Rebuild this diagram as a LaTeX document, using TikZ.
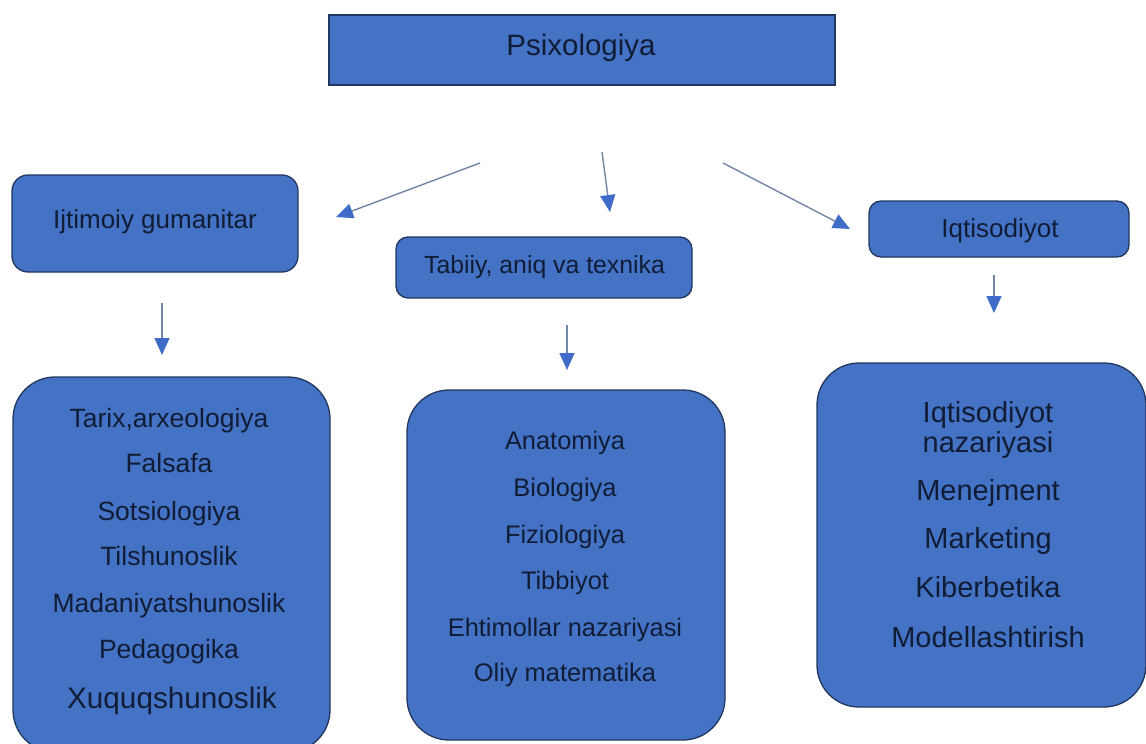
\documentclass[tikz,border=0pt]{standalone}
\usepackage{fontspec}
\setmainfont{Liberation Sans}
\usetikzlibrary{arrows.meta}
\definecolor{boxblue}{HTML}{4472C4}
\definecolor{boxedge}{HTML}{22375F}
\definecolor{txtc}{HTML}{111C36}
\definecolor{linec}{HTML}{7286A6}
\definecolor{tipc}{HTML}{3F6CC8}
\begin{document}
\begin{tikzpicture}[x=1pt,y=-1pt,
 box/.style={draw=boxedge, line width=1.3pt, fill=boxblue, inner sep=0pt},
 lbl/.style={text=txtc, anchor=base, inner sep=0pt},
 arr/.style={draw=linec, line width=1.4pt, -{Triangle[length=17pt,width=15pt,color=tipc]}},
]
\useasboundingbox (0,0) rectangle (1146,744);
\clip (0,0) rectangle (1146,744);
\fill[white] (0,0) rectangle (1146,744);

% boxes
\node[box, minimum width=506pt, minimum height=70pt] (psi) at (582,50) {};
\node[box, rounded corners=16pt, minimum width=286pt, minimum height=97pt] (ijt) at (155,223.5) {};
\node[box, rounded corners=12pt, minimum width=296pt, minimum height=61pt] (tab) at (544,267.5) {};
\node[box, rounded corners=12pt, minimum width=260pt, minimum height=56pt] (iqt) at (999,229) {};
\node[box, rounded corners=42pt, minimum width=317pt, minimum height=375pt] (ijtl) at (171.5,564.5) {};
\node[box, rounded corners=42pt, minimum width=318pt, minimum height=350pt] (tabl) at (566,565) {};
\node[box, rounded corners=42pt, minimum width=329pt, minimum height=344pt] (iqtl) at (981.5,535) {};

% texts
\node[lbl, font=\fontsize{29.5}{34}\selectfont] (tpsi) at (581,55) {Psixologiya};
\node[lbl, font=\fontsize{26}{30}\selectfont] (tijt) at (155,228) {Ijtimoiy gumanitar};
\node[lbl, font=\fontsize{24.8}{29}\selectfont] (ttab) at (544.5,273) {Tabiiy, aniq va texnika};
\node[lbl, font=\fontsize{26}{30}\selectfont] (tiqt) at (1000,237) {Iqtisodiyot};

\begin{scope}[every node/.style={lbl, font=\fontsize{26.5}{30}\selectfont}]
\node (l1) at (169,427) {Tarix,arxeologiya};
\node (l2) at (169,472) {Falsafa};
\node (l3) at (169,520) {Sotsiologiya};
\node (l4) at (169,565) {Tilshunoslik};
\node (l5) at (169,612) {Madaniyatshunoslik};
\node (l6) at (169,658) {Pedagogika};
\node[font=\fontsize{29.7}{34}\selectfont] (l7) at (172,708) {Xuquqshunoslik};
\end{scope}

\begin{scope}[every node/.style={lbl, font=\fontsize{25.4}{30}\selectfont}]
\node (m1) at (565,449) {Anatomiya};
\node (m2) at (565,496) {Biologiya};
\node (m3) at (565,543) {Fiziologiya};
\node (m4) at (565,589) {Tibbiyot};
\node (m5) at (565,636) {Ehtimollar nazariyasi};
\node (m6) at (565,681) {Oliy matematika};
\end{scope}

\begin{scope}[every node/.style={lbl, font=\fontsize{29}{34}\selectfont}]
\node (r1) at (988,422) {Iqtisodiyot};
\node (r2) at (988,452) {nazariyasi};
\node (r3) at (988,500) {Menejment};
\node (r4) at (988,548) {Marketing};
\node (r5) at (988,597) {Kiberbetika};
\node (r6) at (988,647) {Modellashtirish};
\end{scope}

% arrow ends
\coordinate (a1s) at (480,163); \coordinate (a1e) at (336,217);
\coordinate (a2s) at (602,152); \coordinate (a2e) at (610,212);
\coordinate (a3s) at (723,163); \coordinate (a3e) at (850,229);
\coordinate (a4s) at (162,303); \coordinate (a4e) at (162,355);
\coordinate (a5s) at (567,325); \coordinate (a5e) at (567,370);
\coordinate (a6s) at (994,275); \coordinate (a6e) at (994,313);

\draw[arr] (a1s) -- (a1e);
\draw[arr] (a2s) -- (a2e);
\draw[arr] (a3s) -- (a3e);
\draw[arr] (a4s) -- (a4e);
\draw[arr] (a5s) -- (a5e);
\draw[arr] (a6s) -- (a6e);
\end{tikzpicture}
\end{document}
